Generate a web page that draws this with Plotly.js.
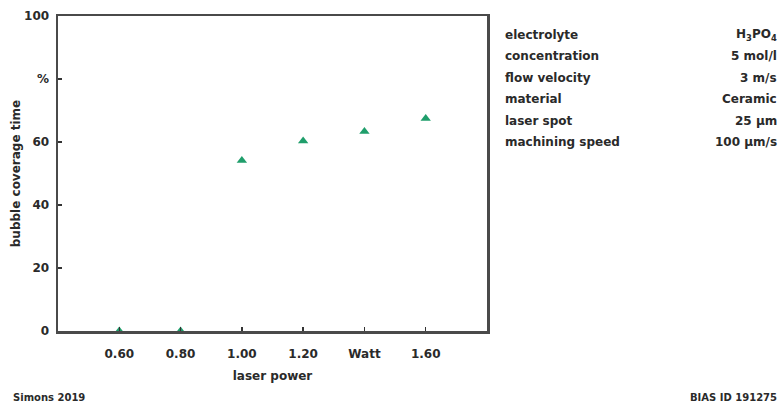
<!DOCTYPE html>
<html>
<head>
<meta charset="utf-8">
<script src="https://cdn.plot.ly/plotly-3.0.1.min.js"></script>
<style>html,body{margin:0;padding:0;background:#fff;}#chart{width:780px;height:406px;}</style>
</head>
<body>
<div id="chart"></div>
<script>
const laserPower = [0.6, 0.8, 1.0, 1.2, 1.4, 1.6];
const coverage = [0, 0, 54.1, 60.3, 63.3, 67.5];
const xTickVals = [0.6, 0.8, 1.0, 1.2, 1.4, 1.6];
const xTickText = ["0.60", "0.80", "1.00", "1.20", "Watt", "1.60"];
const yTickVals = [0, 20, 40, 60, 80, 100];
const yTickText = ["0", "20", "40", "60", "%", "100"];
const paramNames = ["electrolyte", "concentration", "flow velocity", "material", "laser spot", "machining speed"];
const paramValues = ["H<sub>3</sub>PO<sub>4</sub>", "5 mol/l", "3 m/s", "Ceramic", "25 µm", "100 µm/s"];

const F = "DejaVu Sans, sans-serif";
const txtCol = "#2a2a2a";

const annotations = [];
paramNames.forEach((n, i) => {
  const y = 35 + i * 21.4;
  annotations.push({xref: "paper", yref: "paper", x: (503 - 58) / 429, y: 1 - (y - 16) / 315,
    text: "<b>" + n + "</b>", showarrow: false, xanchor: "left", yanchor: "middle",
    font: {family: F, size: 12, color: txtCol}});
  annotations.push({xref: "paper", yref: "paper", x: (779 - 58) / 429, y: 1 - (y - 16) / 315,
    text: "<b>" + paramValues[i] + "</b>", showarrow: false, xanchor: "right", yanchor: "middle",
    font: {family: F, size: 12, color: txtCol}});
});
annotations.push({xref: "paper", yref: "paper", x: (11 - 58) / 429, y: 1 - (397 - 16) / 315,
  text: "<b>Simons 2019</b>", showarrow: false, xanchor: "left", yanchor: "middle",
  font: {family: F, size: 10, color: txtCol}});
annotations.push({xref: "paper", yref: "paper", x: (779 - 58) / 429, y: 1 - (397 - 16) / 315,
  text: "<b>BIAS ID 191275</b>", showarrow: false, xanchor: "right", yanchor: "middle",
  font: {family: F, size: 10, color: txtCol}});

const trace = {
  x: laserPower, y: coverage, type: "scatter", mode: "markers",
  marker: {symbol: "triangle-up", size: 9, color: "#1f9e6b"},
  cliponaxis: false, hoverinfo: "skip"
};

const layout = {
  width: 780, height: 406,
  margin: {l: 58, r: 293, t: 16, b: 75},
  paper_bgcolor: "#fff", plot_bgcolor: "#fff",
  showlegend: false,
  font: {family: F, size: 12, color: txtCol},
  xaxis: {
    range: [0.4, 1.8], tickvals: xTickVals, ticktext: xTickText,
    ticks: "inside", ticklen: 4, tickwidth: 1.5, tickcolor: "#333",
    showgrid: false, zeroline: false,
    showline: true, linecolor: "#4a4a4a", linewidth: 2.5, mirror: true,
    ticklabelstandoff: 10,
    tickfont: {family: F, size: 12, color: txtCol, weight: "bold"},
    title: {text: "<b>laser power</b>", standoff: 12, font: {family: F, size: 12, color: txtCol}}
  },
  yaxis: {
    range: [0, 100], tickvals: yTickVals, ticktext: yTickText,
    ticks: "inside", ticklen: 4, tickwidth: 1.5, tickcolor: "#333",
    showgrid: false, zeroline: false,
    showline: true, linecolor: "#4a4a4a", linewidth: 2.5, mirror: true,
    ticklabelstandoff: 4,
    tickfont: {family: F, size: 12, color: txtCol, weight: "bold"},
    title: {text: "<b>bubble coverage time</b>", standoff: 1, font: {family: F, size: 12, color: txtCol}}
  },
  annotations: annotations
};

Plotly.newPlot("chart", [trace], layout, {displayModeBar: false, staticPlot: true});
</script>
</body>
</html>
